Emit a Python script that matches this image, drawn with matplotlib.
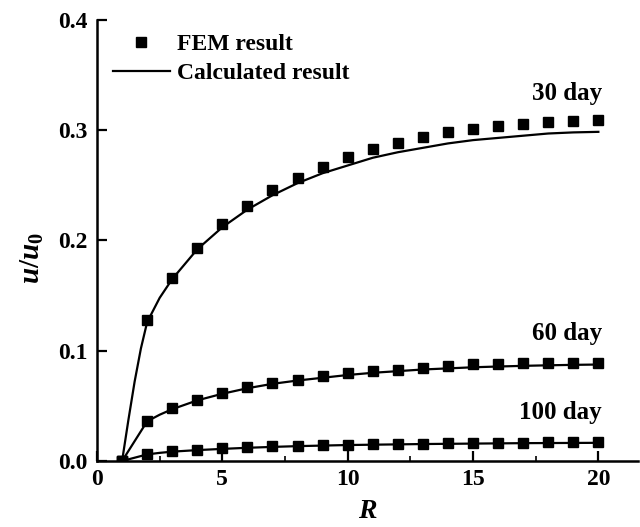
import numpy as np
import matplotlib
matplotlib.use('Agg')
import matplotlib.pyplot as plt
from matplotlib.lines import Line2D
from matplotlib.ticker import MultipleLocator

plt.rcParams['font.family'] = ['Liberation Serif', 'DejaVu Serif']
plt.rcParams['font.weight'] = 'bold'
plt.rcParams['mathtext.fontset'] = 'custom'
plt.rcParams['mathtext.it'] = 'Liberation Serif:italic:bold'
plt.rcParams['mathtext.rm'] = 'Liberation Serif:bold'
plt.rcParams['mathtext.bf'] = 'Liberation Serif:bold'

# FEM points, R = 1..20
R_fem = list(range(1, 21))
fem_30 = [0.0, 0.128, 0.166, 0.193, 0.2145, 0.231, 0.2457, 0.257, 0.267, 0.2757,
          0.2827, 0.2888, 0.294, 0.298, 0.3015, 0.304, 0.306, 0.3076, 0.3085, 0.309]
fem_60 = [0.0, 0.0367, 0.0479, 0.0557, 0.0615, 0.0667, 0.0709, 0.0736, 0.0767, 0.0794,
          0.0812, 0.0827, 0.0848, 0.0858, 0.0876, 0.0882, 0.0885, 0.0888, 0.089, 0.089]
fem_100 = [0.0, 0.0066, 0.009, 0.0104, 0.0115, 0.0124, 0.0132, 0.0139, 0.0144, 0.0148,
           0.0152, 0.0155, 0.0158, 0.016, 0.0162, 0.0164, 0.0166, 0.0168, 0.0169, 0.017]

# calculated curves
R_calc = [1, 1.25, 1.5, 1.75, 2, 2.5, 3, 4, 5, 6, 7, 8, 9, 10, 11, 12, 13, 14, 15, 16, 17, 18, 19, 20]
calc_30 = [0.0, 0.037, 0.072, 0.102, 0.126, 0.148, 0.165, 0.192, 0.212, 0.228, 0.241, 0.252,
           0.261, 0.268, 0.275, 0.280, 0.284, 0.288, 0.291, 0.293, 0.295, 0.297, 0.298, 0.2985]
calc_60 = [0.0, 0.009, 0.018, 0.027, 0.036, 0.042, 0.047, 0.055, 0.061, 0.066, 0.070, 0.073,
           0.0755, 0.078, 0.080, 0.0815, 0.083, 0.084, 0.085, 0.0857, 0.0863, 0.0868, 0.0872, 0.0875]
calc_100 = [0.0, 0.0015, 0.003, 0.0045, 0.006, 0.0074, 0.0085, 0.0099, 0.011, 0.012, 0.0128, 0.0135,
            0.014, 0.0145, 0.0148, 0.0151, 0.0154, 0.0156, 0.0158, 0.016, 0.0162, 0.0163, 0.0164, 0.0165]

labels = ['30 day', '60 day', '100 day']
label_y = [0.333, 0.116, 0.0436]

fig = plt.figure(figsize=(6.4, 5.27), dpi=100)
ax = fig.add_axes([0.1516, 0.1252, 0.846, 0.837])

for calc in [calc_30, calc_60, calc_100]:
    ax.plot(R_calc, calc, color='black', lw=1.6)
for fem in [fem_30, fem_60, fem_100]:
    ax.plot(R_fem, fem, ls='none', marker='s', ms=7.5, color='black')

for lab, ly in zip(labels, label_y):
    ax.text(20.15, ly, lab, ha='right', va='center', fontsize=18, fontweight='bold')

ax.set_xlim(0, 21.6)
ax.set_ylim(0, 0.4)
ax.xaxis.set_major_locator(MultipleLocator(5))
ax.xaxis.set_minor_locator(MultipleLocator(2.5))
ax.yaxis.set_major_locator(MultipleLocator(0.1))
ax.yaxis.set_major_formatter(plt.FormatStrFormatter('%.1f'))
ax.tick_params(which='major', direction='in', length=7, width=1.6, labelsize=17)
ax.tick_params(which='minor', direction='in', length=3.5, width=1.2)
ax.tick_params(axis='x', pad=6)
ax.tick_params(axis='y', pad=7)
ax.spines['top'].set_visible(False)
ax.spines['right'].set_visible(False)
for s in ['left', 'bottom']:
    ax.spines[s].set_linewidth(1.8)

ax.set_xlabel('$R$', fontsize=20, labelpad=6)
ax.set_ylabel('$u/u_0$', fontsize=21)
ax.yaxis.set_label_coords(-0.095, 0.46)

handles = [Line2D([], [], ls='none', marker='s', ms=7.5, color='black'),
           Line2D([], [], color='black', lw=1.6)]
ax.legend(handles, ['FEM result', 'Calculated result'], loc='upper left',
          bbox_to_anchor=(0.008, 0.995), frameon=False, fontsize=17,
          handlelength=2.4, handletextpad=0.3, labelspacing=0.3, borderpad=0)

fig.savefig('out.png', dpi=100)
